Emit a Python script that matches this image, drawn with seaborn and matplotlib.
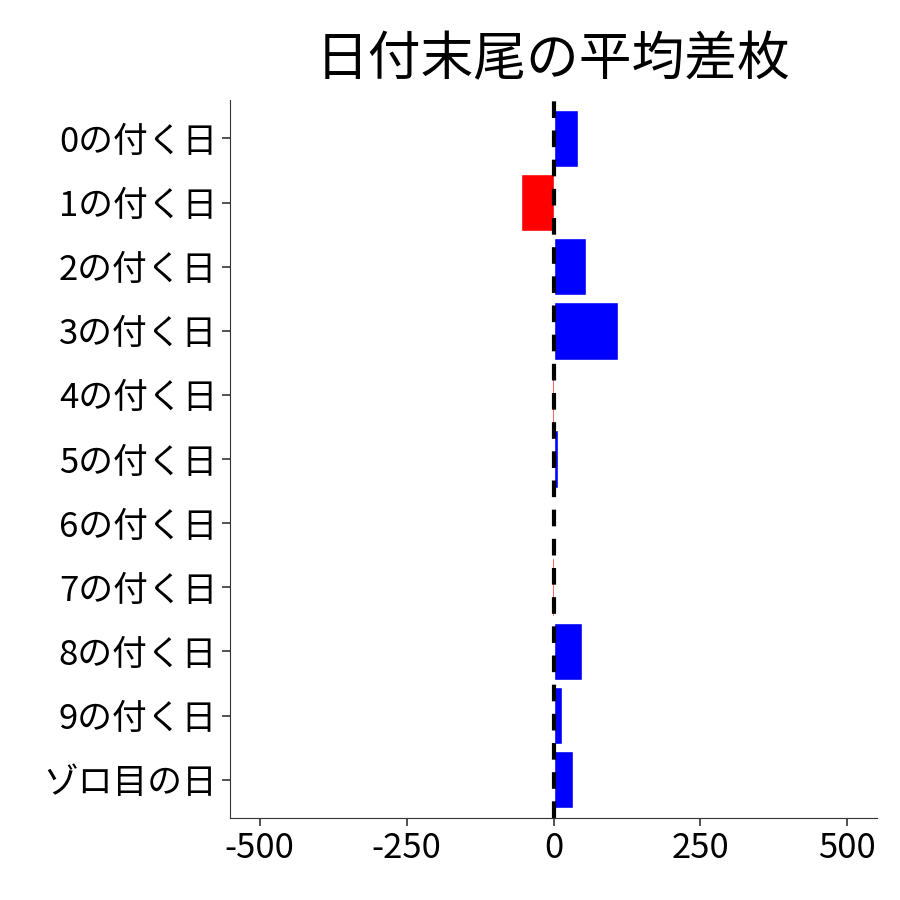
import matplotlib
matplotlib.use("Agg")
import matplotlib.pyplot as plt
import seaborn as sns
import pandas as pd

categories = ["0の付く日","1の付く日","2の付く日","3の付く日","4の付く日","5の付く日",
              "6の付く日","7の付く日","8の付く日","9の付く日","ゾロ目の日"]
values = [42, -56, 56, 110, -2, 8, 0, -3, 49, 15, 34]

sns.set_style("white")
plt.rcParams['font.family'] = ['Noto Sans CJK JP', 'DejaVu Sans']

df = pd.DataFrame({"cat": categories, "val": values})
colors = ["blue" if v >= 0 else "red" for v in values]

fig = plt.figure(figsize=(9, 9), dpi=100)
ax = fig.add_axes([0.256, 0.091, 0.718, 0.798])
sns.barplot(data=df, x="val", y="cat", hue="cat", palette=colors, legend=False,
            width=0.9, saturation=1, ax=ax, orient="h")
ax.axvline(0, color="black", linestyle=(0, (4, 3)), linewidth=3)
ax.set_xlim(-550, 550)
ax.set_ylim(10.6, -0.6)
ax.set_xticks([-500, -250, 0, 250, 500])
ax.set_xticklabels(["-500", "-250", "0", "250", "500"])
ax.set_xlabel("")
ax.set_ylabel("")
ax.tick_params(axis="both", labelsize=25, length=6, width=1.2, color="#333333",
               labelcolor="black", left=True, bottom=True)
for s in ["top", "right"]:
    ax.spines[s].set_visible(False)
for s in ["left", "bottom"]:
    ax.spines[s].set_color("#333333")
ax.set_title("日付末尾の平均差枚", fontsize=38, pad=18, color="black")
fig.savefig("out.png", dpi=100)
